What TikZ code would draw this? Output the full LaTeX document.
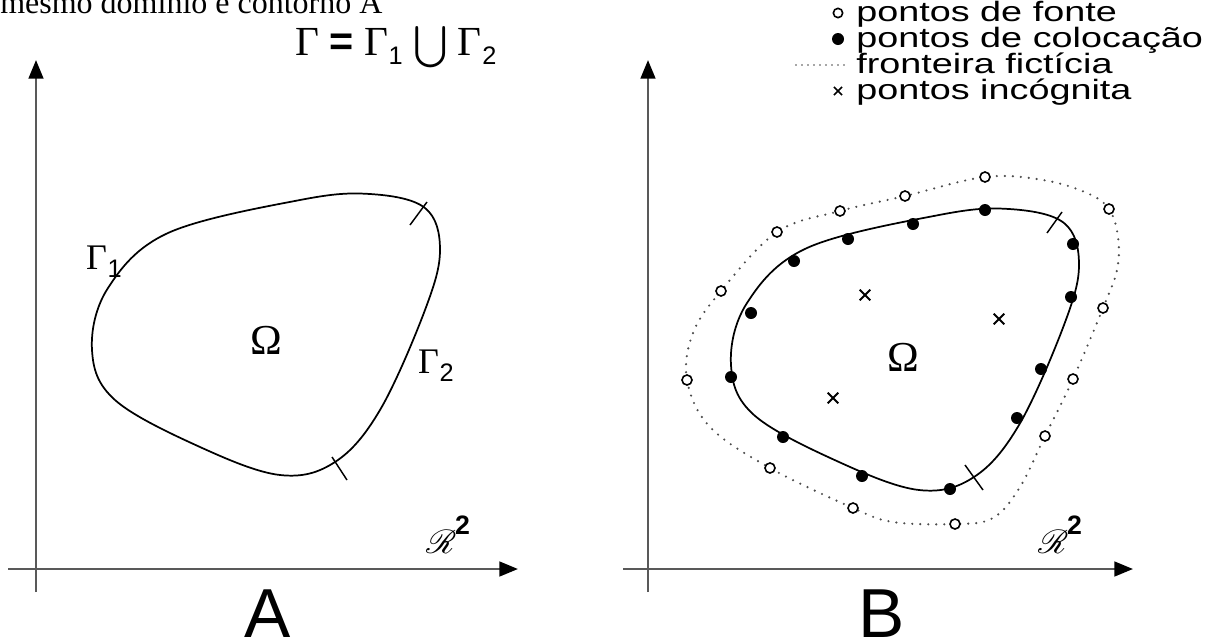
\documentclass[tikz,border=0pt]{standalone}
\usepackage{amsmath,amssymb}
\usepackage{mathrsfs}
\usepackage{fontspec}
\setmainfont{Liberation Serif}
\setsansfont{Liberation Sans}
\newfontfamily\legfont{Liberation Sans}[FakeStretch=1.35]
\usetikzlibrary{arrows.meta,shapes.misc}

\newcommand{\Gsub}[1]{Γ\kern0.5pt\raisebox{-0.22em}{\sffamily\fontsize{19}{19}\selectfont #1}}
\newcommand{\Rtwo}{$\mathscr{R}$\kern-1pt\raisebox{0.3em}{\sffamily\bfseries\fontsize{20}{20}\selectfont 2}}

\tikzset{
  axisline/.style={draw=black!65,line width=2pt,
    -{Triangle[length=14pt,width=11pt,color=black,fill=black]}},
  contour/.style={line width=1.3pt},
  fictline/.style={draw=black!70,line width=1.8pt,line cap=round,
    dash pattern=on 0pt off 6pt},
  cutmark/.style={line width=1.1pt},
  srcpt/.style={circle,draw,fill=white,line width=1.2pt,inner sep=0pt,minimum size=7.5pt},
  colpt/.style={circle,fill=black,inner sep=0pt,minimum size=9pt},
  unkpt/.style={cross out,draw,line width=1.4pt,inner sep=0pt,minimum size=6.5pt},
  lbl/.style={inner sep=0pt,font=\fontsize{27}{27}\selectfont},
  legtxt/.style={anchor=base west,inner sep=0pt,font=\legfont\fontsize{21}{21}\selectfont},
  panel/.style={inner sep=0pt,font=\sffamily\fontsize{52}{52}\selectfont},
}

\begin{document}
\begin{tikzpicture}[x=0.75pt,y=-0.75pt]
\useasboundingbox (0,0) rectangle (1232,640);

% caption line cut by the page edge
\node[anchor=base west,inner sep=0pt,font=\fontsize{24}{24}\selectfont] (cap) at (0,13)
  {mesmo domínio e contorno A};

% axes
\coordinate (xA0) at (8,569);   \coordinate (xA1) at (518,569);
\coordinate (yA0) at (36,592);  \coordinate (yA1) at (36,60);
\coordinate (xB0) at (623,569); \coordinate (xB1) at (1133,569);
\coordinate (yB0) at (648,592); \coordinate (yB1) at (648,60);
\draw[axisline] (xA0)--(xA1);
\draw[axisline] (yA0)--(yA1);
\draw[axisline] (xB0)--(xB1);
\draw[axisline] (yB0)--(yB1);

% the same contour in both panels
\foreach \dx/\dy in {0/0,639/15}
  \draw[contour,shift={(\dx,\dy)}] plot[smooth cycle,tension=0.6] coordinates {
    (92,350) (108,288) (168,233) (300,200) (370,194) (425,208) (440,250)
    (425,310) (380,410) (335,462) (280,475) (200,447) (115,400)};

% split of the boundary
\coordinate (tA1) at (410,225); \coordinate (tA2) at (427,202);
\coordinate (tA3) at (332,457); \coordinate (tA4) at (347,480);
\coordinate (tB1) at (1047,233); \coordinate (tB2) at (1062,212);
\coordinate (tB3) at (965,465);  \coordinate (tB4) at (983,490);
\draw[cutmark] (tA1)--(tA2) (tA3)--(tA4) (tB1)--(tB2) (tB3)--(tB4);

% labels A
\node[lbl] (g1) at (104,262) {\Gsub{1}};
\node[lbl] (g2) at (436,366) {\Gsub{2}};
\node[lbl,font=\fontsize{32}{32}\selectfont] (omA) at (266,340) {Ω};
\node[lbl,anchor=base,font=\fontsize{31}{31}\selectfont] (gam) at (396,55)
  {Γ {\sffamily\bfseries =} \Gsub{1} $\bigcup$ \Gsub{2}};
\node[lbl,anchor=base,font=\fontsize{46}{46}\selectfont] (rA) at (448,553) {\Rtwo};
\node[panel,anchor=base] (pA) at (268,637) {A};

% fictitious boundary
\draw[fictline] plot[smooth cycle,tension=0.6] coordinates {
  (687,380) (693,333) (721,291) (777,232) (840,211) (905,196) (985,177)
  (1043,180) (1087,193) (1109,209) (1118,237) (1117,270) (1103,308)
  (1073,379) (1045,436) (1020,487) (993,518) (955,524) (893,522)
  (853,508) (770,468) (710,427)};
\foreach \p [count=\i] in {(985,177),(905,196),(840,211),(777,232),(721,291),
  (687,380),(770,468),(853,508),(955,524),(1045,436),(1073,379),(1103,308),(1109,209)}
  \node[srcpt] (s\i) at \p {};

% collocation points
\foreach \p [count=\i] in {(985,210),(913,224),(848,239),(794,261),(751,313),
  (731,377),(783,437),(862,476),(950,489),(1017,418),(1041,369),(1071,297),(1073,244)}
  \node[colpt] (c\i) at \p {};

% unknown points
\foreach \p [count=\i] in {(865,295),(999,319),(833,398)}
  \node[unkpt] (u\i) at \p {};

\node[lbl,font=\fontsize{32}{32}\selectfont] (omB) at (903,357) {Ω};
\node[lbl,anchor=base,font=\fontsize{46}{46}\selectfont] (rB) at (1060,553) {\Rtwo};
\node[panel,anchor=base] (pB) at (882,637) {B};

% legend
\node[legtxt] (t1) at (856,21) {pontos de fonte};
\node[legtxt] (t2) at (856,47) {pontos de colocação};
\node[legtxt] (t3) at (856,73) {fronteira fictícia};
\node[legtxt] (t4) at (856,99) {pontos incógnita};
\node[srcpt,minimum size=7pt] (ls) at (838,13) {};
\node[colpt,minimum size=9pt] (lc) at (838,39) {};
\coordinate (lf0) at (796,65); \coordinate (lf1) at (846,65);
\draw[fictline,line width=1.4pt,dash pattern=on 0pt off 4.5pt] (lf0)--(lf1);
\node[unkpt,minimum size=5pt,line width=1.1pt] (lu) at (838,91) {};
\end{tikzpicture}
\end{document}
